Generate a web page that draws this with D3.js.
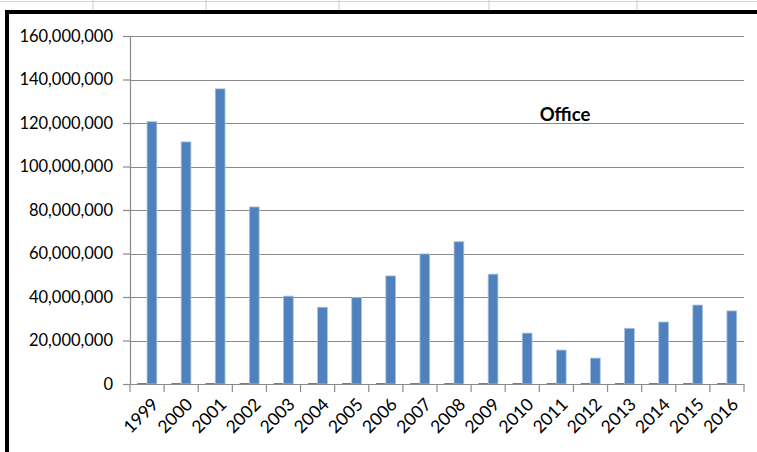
<!DOCTYPE html>
<html><head><meta charset="utf-8">
<script src="https://cdn.jsdelivr.net/npm/d3@7"></script>
<style>html,body{margin:0;padding:0;background:#fff;}svg{display:block;}</style>
</head><body>
<script>
const years = ["1999","2000","2001","2002","2003","2004","2005","2006","2007","2008","2009","2010","2011","2012","2013","2014","2015","2016"];
const officeValues = [120600000,111300000,135700000,81400000,40400000,35300000,39700000,49700000,59800000,65400000,50500000,23400000,15600000,11900000,25600000,28500000,36300000,33600000];
const baseValues = [400000,400000,400000,400000,400000,400000,400000,400000,400000,400000,400000,400000,400000,400000,400000,400000,400000,400000];
const yTicks = [0,20000000,40000000,60000000,80000000,100000000,120000000,140000000,160000000];
const seriesNames = ["base","Office"];
const titleText = "Office";
const sheetCols = [93,206,339,489,637];

(function(){
const W = 757, H = 452;
const svg = d3.select("body").append("svg").attr("width", W).attr("height", H);

const sg = svg.append("g").attr("stroke","#d4d4d4").attr("stroke-width",1.2);
sg.append("line").attr("x1",0).attr("x2",W).attr("y1",1.5).attr("y2",1.5);
sheetCols.forEach(c => sg.append("line").attr("x1",c).attr("x2",c).attr("y1",0).attr("y2",10));

svg.append("rect").attr("x",7).attr("y",12).attr("width",W+10).attr("height",H+10)
  .attr("fill","#fff").attr("stroke","#000").attr("stroke-width",4);

const pL = 130, pR = 744, pT = 36, pB = 384;
const x = d3.scaleBand().domain(years).range([pL,pR]).paddingInner(0).paddingOuter(0);
const xs = d3.scaleBand().domain(seriesNames).range([0,x.bandwidth()]).paddingInner(0).paddingOuter(0.75);
const y = d3.scaleLinear().domain([0,160000000]).range([pB,pT]);

svg.append("g").selectAll("line").data(yTicks.slice(1)).join("line")
  .attr("x1",pL).attr("x2",pR).attr("y1",d=>Math.round(y(d))+0.5).attr("y2",d=>Math.round(y(d))+0.5)
  .attr("stroke","#8a8a8a").attr("stroke-width",1.2);

const yAxis = d3.axisLeft(y).tickValues(yTicks).tickFormat(d3.format(",")).tickSizeOuter(0).tickSizeInner(7).tickPadding(10);
const gy = svg.append("g").attr("transform",`translate(${pL},0)`).call(yAxis);
gy.select(".domain").attr("stroke","#8a8a8a").attr("stroke-width",1.2);
gy.selectAll(".tick line").attr("stroke","#8a8a8a").attr("stroke-width",1.2);
gy.selectAll("text").attr("font-family","Lato, 'Open Sans', sans-serif").attr("font-size",16.5).attr("fill","#000");

const data = years.map((yr,i)=>({yr, vals:[{s:"base",v:baseValues[i]},{s:"Office",v:officeValues[i]}]}));
const gb = svg.append("g");
gb.selectAll("g").data(data).join("g").attr("transform",d=>`translate(${x(d.yr)},0)`)
  .selectAll("rect").data(d=>d.vals).join("rect")
  .attr("x",d=>xs(d.s)).attr("width",xs.bandwidth())
  .attr("y",d=>y(d.v)).attr("height",d=>pB-y(d.v))
  .attr("fill",d=>d.s==="Office"?"#4f81bd":"#5a6f8a")
  .attr("stroke",d=>d.s==="Office"?"#a9c1e0":"none").attr("stroke-width",0.8);

const xAxis = d3.axisBottom(x).tickSize(0).tickSizeOuter(0);
const gx = svg.append("g").attr("transform",`translate(0,${pB})`).call(xAxis);
gx.select(".domain").attr("stroke","#8a8a8a").attr("stroke-width",1.2);
gx.selectAll(".tick text").attr("font-family","Lato, 'Open Sans', sans-serif").attr("font-size",17.5).attr("fill","#000")
  .attr("text-anchor","end").attr("transform","translate(6,15) rotate(-45)").attr("dy","0.35em").attr("dx","0");
const bounds = years.map(d=>x(d)).concat([pR]);
svg.append("g").selectAll("line").data(bounds).join("line")
  .attr("x1",d=>d).attr("x2",d=>d).attr("y1",pB).attr("y2",pB+8)
  .attr("stroke","#8a8a8a").attr("stroke-width",1.2);

svg.append("text").attr("x",565).attr("y",121).attr("text-anchor","middle")
  .attr("font-family","Lato, 'Open Sans', sans-serif").attr("font-weight","bold").attr("font-size",18.5)
  .text(titleText);
})();
</script>
</body></html>
